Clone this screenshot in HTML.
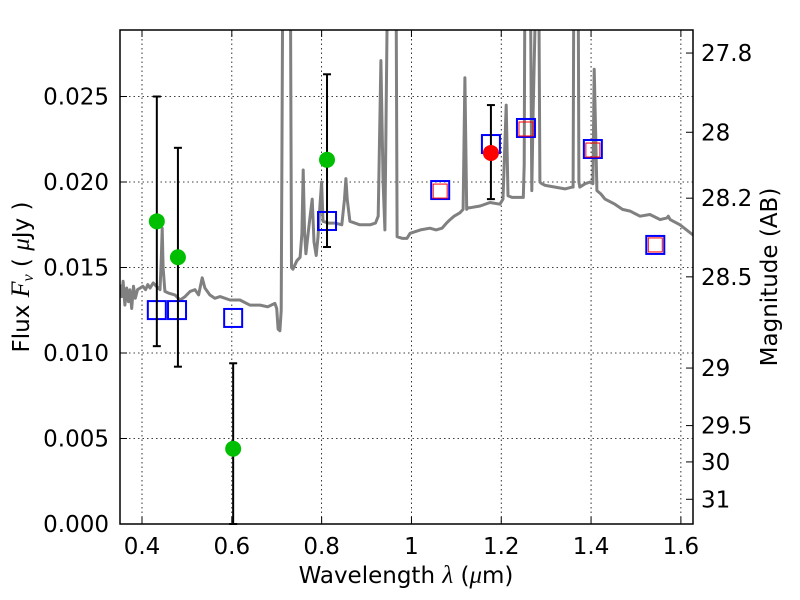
<!DOCTYPE html>
<html><head><meta charset="utf-8"><style>
body{margin:0;background:#fff}
svg{display:block;font-family:"DejaVu Sans","Liberation Sans",sans-serif}
</style></head><body>
<svg id="chart" width="800" height="600" xmlns="http://www.w3.org/2000/svg">
<g id="grid"></g>
<g id="spec"></g>
<g id="marks"></g>
<rect x="120" y="30" width="573" height="494" fill="none" stroke="#000" stroke-width="1.5"/>
<g id="axes" font-size="23"></g>
<text x="406" y="583" font-size="23" text-anchor="middle">Wavelength  <tspan font-family="Liberation Serif" font-style="italic" font-size="25">λ</tspan> (<tspan font-family="Liberation Serif" font-style="italic" font-size="25">μ</tspan>m)</text>
<text transform="translate(29,277) rotate(-90)" font-size="23" text-anchor="middle">Flux  <tspan font-family="Liberation Serif" font-style="italic" font-size="26">F</tspan><tspan font-family="Liberation Serif" font-style="italic" font-size="16" dy="4">ν</tspan><tspan dy="-4">   (  </tspan><tspan font-family="Liberation Serif" font-style="italic" font-size="25">μ</tspan>Jy )</text>
<text transform="translate(777,277) rotate(-90)" font-size="23" text-anchor="middle">Magnitude (AB)</text>
</svg>
<script>
const xTicks=[0.4,0.6,0.8,1.0,1.2,1.4,1.6];
const xTickLabels=["0.4","0.6","0.8","1","1.2","1.4","1.6"];
const yTicks=[0,0.005,0.010,0.015,0.020,0.025];
const yTickLabels=["0.000","0.005","0.010","0.015","0.020","0.025"];
const magTicks=[27.8,28,28.2,28.5,29,29.5,30,31];
const magTickLabels=["27.8","28","28.2","28.5","29","29.5","30","31"];
const specWave=[0.351,0.355,0.358,0.362,0.366,0.370,0.373,0.377,0.381,0.385,0.390,0.396,0.402,0.408,0.413,0.418,0.425,0.432,0.440,0.443,0.445,0.447,0.451,0.460,0.473,0.485,0.496,0.507,0.518,0.526,0.534,0.540,0.551,0.562,0.574,0.596,0.618,0.640,0.663,0.680,0.696,0.700,0.703,0.707,0.710,0.714,0.730,0.733,0.736,0.745,0.752,0.756,0.759,0.762,0.765,0.772,0.779,0.783,0.788,0.792,0.796,0.800,0.803,0.815,0.830,0.845,0.851,0.854,0.857,0.863,0.885,0.908,0.920,0.926,0.932,0.937,0.941,0.946,0.952,0.963,0.966,0.968,0.980,0.990,0.997,1.020,1.041,1.055,1.068,1.078,1.086,1.095,1.108,1.115,1.119,1.123,1.126,1.131,1.153,1.175,1.197,1.204,1.211,1.215,1.224,1.240,1.249,1.251,1.253,1.264,1.268,1.271,1.280,1.283,1.286,1.290,1.298,1.320,1.342,1.358,1.360,1.362,1.371,1.373,1.375,1.387,1.398,1.404,1.407,1.410,1.413,1.422,1.431,1.453,1.470,1.487,1.509,1.531,1.554,1.569,1.572,1.576,1.598,1.627];
const specFlux=[0.0140,0.0133,0.0142,0.0128,0.0138,0.0130,0.0137,0.0126,0.0139,0.0132,0.0137,0.0138,0.0139,0.0137,0.0140,0.0138,0.0141,0.0139,0.0137,0.0155,0.0173,0.0150,0.0136,0.0135,0.0134,0.0131,0.0133,0.0136,0.0137,0.0134,0.0144,0.0138,0.0134,0.0132,0.0133,0.0131,0.0131,0.0128,0.0128,0.0127,0.0129,0.0126,0.0114,0.0113,0.0125,0.0350,0.0350,0.0150,0.0149,0.0154,0.0156,0.0170,0.0207,0.0170,0.0158,0.0175,0.0190,0.0165,0.0157,0.0168,0.0185,0.0200,0.0177,0.0176,0.0176,0.0175,0.0190,0.0202,0.0190,0.0177,0.0175,0.0175,0.0176,0.0180,0.0271,0.0200,0.0172,0.0300,0.0350,0.0350,0.0300,0.0168,0.0167,0.0167,0.0170,0.0172,0.0173,0.0172,0.0173,0.0176,0.0178,0.0180,0.0182,0.0184,0.0261,0.0184,0.0185,0.0185,0.0186,0.0188,0.0187,0.0190,0.0245,0.0192,0.0191,0.0191,0.0191,0.0210,0.0350,0.0350,0.0195,0.0240,0.0350,0.0350,0.0200,0.0199,0.0198,0.0197,0.0196,0.0197,0.0197,0.0350,0.0350,0.0200,0.0197,0.0199,0.0200,0.0199,0.0266,0.0230,0.0195,0.0193,0.0190,0.0187,0.0184,0.0183,0.0180,0.0181,0.0178,0.0179,0.0180,0.0178,0.0175,0.0169,0.0168,0.0168];
const greenWave=[0.433,0.480,0.603,0.812];
const greenFlux=[0.0177,0.0156,0.0044,0.0213];
const greenErrLo=[0.0104,0.0092,0.0,0.0162];
const greenErrHi=[0.0250,0.0220,0.0094,0.0263];
const redWave=[1.177];
const redFlux=[0.0217];
const redErrLo=[0.0190];
const redErrHi=[0.0245];
const blueWave=[0.433,0.478,0.603,0.812,1.064,1.177,1.255,1.404,1.543];
const blueFlux=[0.01251,0.01251,0.01205,0.01772,0.01953,0.02222,0.02316,0.02193,0.01632];
const redSqWave=[1.064,1.255,1.404,1.543];
const redSqFlux=[0.01947,0.02310,0.02187,0.01632];

const L=120,R=693,T=30,B=524,XMIN=0.351,XMAX=1.627,YMIN=0,YMAX=0.02889;
const NS="http://www.w3.org/2000/svg";
function sx(v){return L+(v-XMIN)/(XMAX-XMIN)*(R-L);}
function sy(v){return B-(v-YMIN)/(YMAX-YMIN)*(B-T);}
function magY(m){return sy(Math.pow(10,(23.9-m)/2.5));}
function mk(tag,attrs,parent){const e=document.createElementNS(NS,tag);for(const k in attrs)e.setAttribute(k,attrs[k]);parent.appendChild(e);return e;}
const grid=document.getElementById('grid'),axes=document.getElementById('axes'),spec=document.getElementById('spec'),marks=document.getElementById('marks');
xTicks.forEach((t,i)=>{const x=sx(t);
 const g=mk('line',{x1:x,x2:x,y1:T,y2:B,stroke:'#000','stroke-width':0.8,'stroke-dasharray':'1.5,3'},grid);
 
 const tk=mk('line',{x1:x,x2:x,y1:B,y2:B-7,stroke:'#000'},axes);
 const tk2=mk('line',{x1:x,x2:x,y1:T,y2:T+7,stroke:'#000'},axes);
 const tx=mk('text',{x:x,y:B+30,'text-anchor':'middle'},axes);tx.textContent=xTickLabels[i];
 });
yTicks.forEach((t,i)=>{const y=sy(t);
 const g=mk('line',{x1:L,x2:R,y1:y,y2:y,stroke:'#000','stroke-width':0.8,'stroke-dasharray':'1.5,3'},grid);
 
 const tk=mk('line',{x1:L,x2:L+7,y1:y,y2:y,stroke:'#000'},axes);
 const tx=mk('text',{x:L-11,y:y+8,'text-anchor':'end'},axes);tx.textContent=yTickLabels[i];
 });
magTicks.forEach((m,i)=>{const y=magY(m);
 const tk=mk('line',{x1:R-7,x2:R,y1:y,y2:y,stroke:'#000'},axes);
 const tx=mk('text',{x:R+8,y:y+8,'text-anchor':'start'},axes);tx.textContent=magTickLabels[i];
 });
const cp=mk('clipPath',{id:'cp'},spec);mk('rect',{x:L,y:T,width:R-L,height:B-T},cp);
const pts=specWave.map((w,i)=>sx(w).toFixed(1)+','+sy(specFlux[i]).toFixed(1)).join(' ');
const pl=mk('polyline',{points:pts,fill:'none',stroke:'#808080','stroke-width':3,'stroke-linejoin':'round','clip-path':'url(#cp)'},spec);

function err(w,lo,hi,name){const x=sx(w);
 const e=mk('g',{},marks);
 mk('line',{x1:x,x2:x,y1:sy(lo),y2:sy(hi),stroke:'#000','stroke-width':2},e);
 mk('line',{x1:x-4,x2:x+4,y1:sy(lo),y2:sy(lo),stroke:'#000','stroke-width':2},e);
 mk('line',{x1:x-4,x2:x+4,y1:sy(hi),y2:sy(hi),stroke:'#000','stroke-width':2},e);}
blueWave.forEach((w,i)=>{const r=mk('rect',{x:sx(w)-9,y:sy(blueFlux[i])-9,width:18,height:18,fill:'none',stroke:'#0000ff','stroke-width':2},marks);
 });
redSqWave.forEach((w,i)=>{const r=mk('rect',{x:sx(w)-7,y:sy(redSqFlux[i])-7,width:14,height:14,fill:'none',stroke:'#ff0000','stroke-width':1},marks);
 });
greenWave.forEach((w,i)=>{err(w,greenErrLo[i],greenErrHi[i],'green-error-bar');
 const c=mk('circle',{cx:sx(w),cy:sy(greenFlux[i]),r:8,fill:'#00bf00'},marks);
 });
redWave.forEach((w,i)=>{err(w,redErrLo[i],redErrHi[i],'red-error-bar');
 const c=mk('circle',{cx:sx(w),cy:sy(redFlux[i]),r:8,fill:'#ff0000'},marks);
 });
</script>
</body></html>
